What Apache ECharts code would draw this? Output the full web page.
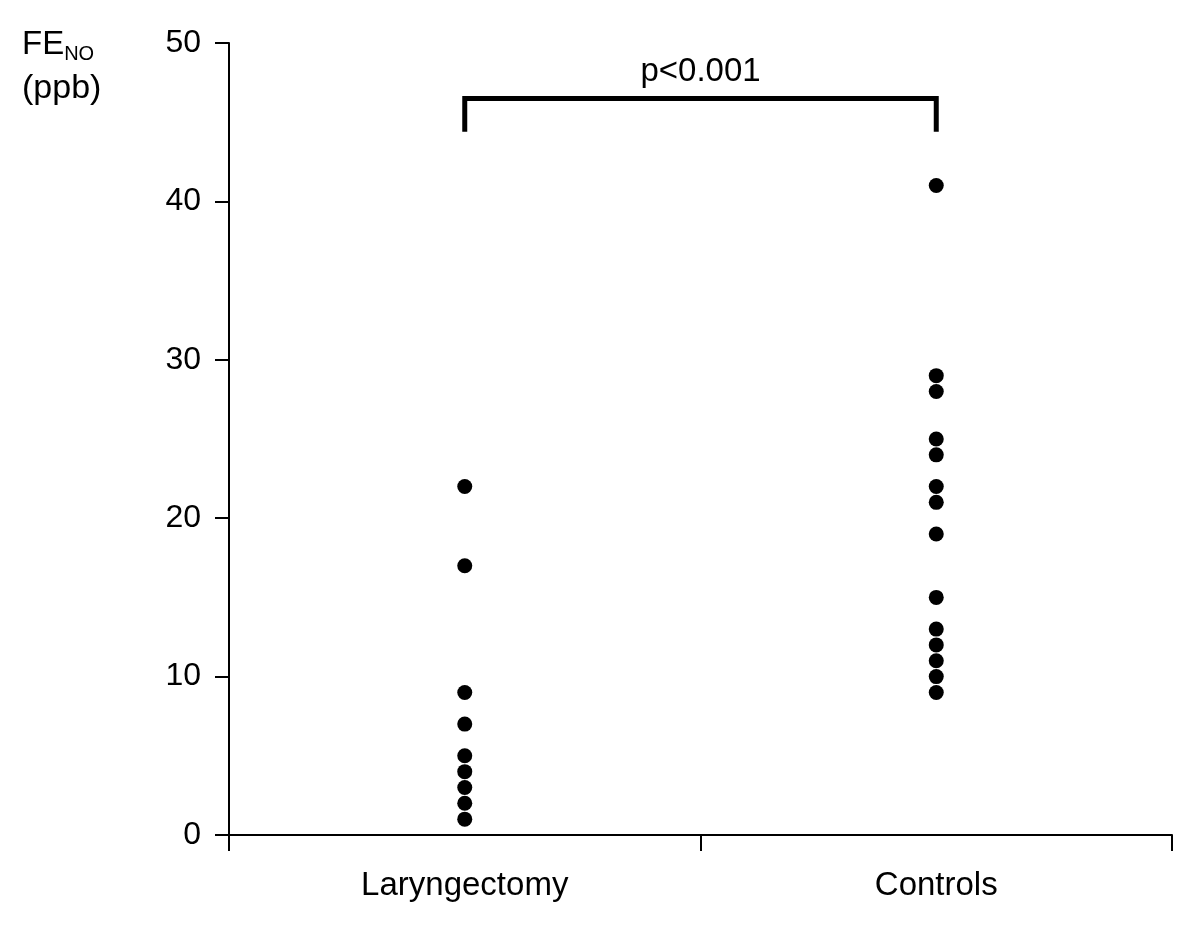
<!DOCTYPE html>
<html>
<head>
<meta charset="utf-8">
<script src="https://cdn.jsdelivr.net/npm/echarts@6/dist/echarts.min.js"></script>
<style>html,body{margin:0;padding:0;background:#fff}#c{width:1200px;height:929px}</style>
</head>
<body>
<div id="c"></div>
<script>
const categories = ['Laryngectomy', 'Controls'];
const laryngectomyValues = [1, 2, 3, 4, 5, 7, 9, 17, 22];
const controlsValues = [9, 10, 11, 12, 13, 15, 19, 21, 22, 24, 25, 28, 29, 41];
const yTicks = [0, 10, 20, 30, 40, 50];
const pText = 'p<0.001';
const bracketBottom = 44.4;
const bracketTop = 46.5;
const pTextLevel = 48.2;

const FONT = '"Liberation Sans", Arial, sans-serif';
const chart = echarts.init(document.getElementById('c'), null, {renderer: 'canvas'});

const scatterData = [];
laryngectomyValues.forEach(v => scatterData.push([categories[0], v]));
controlsValues.forEach(v => scatterData.push([categories[1], v]));

chart.setOption({
  animation: false,
  backgroundColor: '#fff',
  grid: {left: 229, right: 28, top: 43, bottom: 94, containLabel: false},
  graphic: [{
    type: 'text', left: 22, top: 26,
    style: {
      text: '{m|FE}{s|NO}\n{p|(ppb)}',
      rich: {
        m: {fontSize: 33, fontFamily: FONT, fill: '#000', lineHeight: 40},
        s: {fontSize: 20, fontFamily: FONT, fill: '#000', padding: [18, 0, 0, 0], lineHeight: 40},
        p: {fontSize: 34, fontFamily: FONT, fill: '#000', lineHeight: 48}
      }
    }
  }],
  xAxis: {
    type: 'category',
    data: categories,
    boundaryGap: true,
    axisLine: {lineStyle: {color: '#000', width: 2}},
    axisTick: {show: true, length: 16, lineStyle: {color: '#000', width: 2}, alignWithLabel: false},
    axisLabel: {color: '#000', fontSize: 33, fontFamily: FONT, margin: 34},
    splitLine: {show: false}
  },
  yAxis: {
    type: 'value',
    min: yTicks[0], max: yTicks[yTicks.length - 1], interval: 10,
    axisLine: {show: true, lineStyle: {color: '#000', width: 2}},
    axisTick: {show: true, length: 14, lineStyle: {color: '#000', width: 2}},
    axisLabel: {color: '#000', fontSize: 32, fontFamily: FONT, margin: 28},
    splitLine: {show: false}
  },
  series: [
    {
      type: 'scatter',
      data: scatterData,
      symbol: 'circle',
      symbolSize: 15,
      itemStyle: {color: '#000', opacity: 1}
    },
    {
      type: 'line',
      data: [[categories[0], bracketBottom], [categories[0], bracketTop], [categories[1], bracketTop], [categories[1], bracketBottom]],
      symbol: 'none',
      lineStyle: {color: '#000', width: 5, cap: 'butt', join: 'miter'},
      silent: true
    }
  ]
});

// place the p-value label centred between the two categories
const p0 = chart.convertToPixel({gridIndex: 0}, [categories[0], pTextLevel]);
const p1 = chart.convertToPixel({gridIndex: 0}, [categories[1], pTextLevel]);
chart.setOption({
  graphic: [{}, {
    type: 'text',
    x: (p0[0] + p1[0]) / 2, y: p0[1],
    style: {
      text: pText, fontSize: 33, fontFamily: FONT, fill: '#000',
      align: 'center', verticalAlign: 'middle'
    }
  }]
});
</script>
</body>
</html>
